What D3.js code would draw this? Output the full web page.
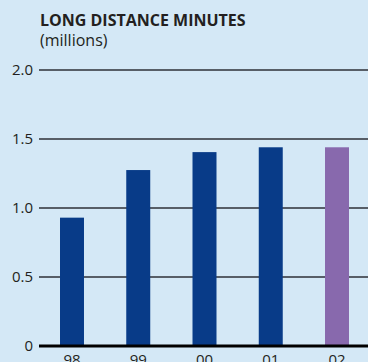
<!DOCTYPE html>
<html>
<head>
<meta charset="utf-8">
<script src="https://cdn.jsdelivr.net/npm/d3@7"></script>
<style>
  html, body { margin: 0; padding: 0; background: #d4e8f6; }
  svg { display: block; }
</style>
</head>
<body>
<svg id="chart" width="368" height="362"></svg>
<script>
// Long distance minutes per year, in millions
const years = ["98", "99", "00", "01", "02"];
const minutes = [0.93, 1.275, 1.405, 1.44, 1.44];
const tickValues = [0, 0.5, 1.0, 1.5, 2.0];
const tickLabels = ["0", "0.5", "1.0", "1.5", "2.0"];

const svg = d3.select("#chart");
const W = 368, H = 362;

svg.append("rect").attr("width", W).attr("height", H).attr("fill", "#d4e8f6");

const y = d3.scaleLinear().domain([0, 2]).range([346, 70]);
const x = d3.scaleBand().domain(years).range([39, 370])
  .paddingInner(0.638).paddingOuter(0.317);

// Title
svg.append("text")
  .attr("x", 40).attr("y", 26)
  .attr("font-family", "'Open Sans', sans-serif")
  .attr("font-weight", 700)
  .attr("font-size", 16)
  .attr("fill", "#231f20")
  .text("LONG DISTANCE MINUTES");
svg.append("text")
  .attr("x", 40).attr("y", 46)
  .attr("font-family", "'Open Sans', sans-serif")
  .attr("font-size", 16)
  .attr("fill", "#231f20")
  .text("(millions)");

// Horizontal gridlines (baseline drawn later, heavier)
svg.append("g")
  .selectAll("line")
  .data(tickValues.filter(v => v > 0))
  .join("line")
  .attr("x1", 39).attr("x2", W)
  .attr("y1", d => y(d)).attr("y2", d => y(d))
  .attr("stroke", "#575e67")
  .attr("stroke-width", 2);

// Y tick labels
svg.append("g")
  .selectAll("text")
  .data(tickValues)
  .join("text")
  .attr("x", 33)
  .attr("y", d => y(d) + 5)
  .attr("text-anchor", "end")
  .attr("font-family", "'Open Sans', sans-serif")
  .attr("font-size", 15)
  .attr("fill", "#231f20")
  .text((d, i) => tickLabels[i]);

// Bars; the latest year is highlighted
svg.append("g")
  .selectAll("rect")
  .data(years.map((yr, i) => ({ yr, v: minutes[i] })))
  .join("rect")
  .attr("x", d => x(d.yr))
  .attr("width", x.bandwidth())
  .attr("y", d => y(d.v))
  .attr("height", d => y(0) - y(d.v))
  .attr("fill", (d, i) => i === years.length - 1 ? "#8869ad" : "#083b88");

// Baseline
svg.append("line")
  .attr("x1", 39).attr("x2", W)
  .attr("y1", y(0)).attr("y2", y(0))
  .attr("stroke", "#000")
  .attr("stroke-width", 3);

// Category labels
svg.append("g")
  .selectAll("text")
  .data(years)
  .join("text")
  .attr("x", d => x(d) + x.bandwidth() / 2)
  .attr("y", 365)
  .attr("text-anchor", "middle")
  .attr("font-family", "'Open Sans', sans-serif")
  .attr("font-size", 15)
  .attr("fill", "#231f20")
  .text(d => d);
</script>
</body>
</html>
